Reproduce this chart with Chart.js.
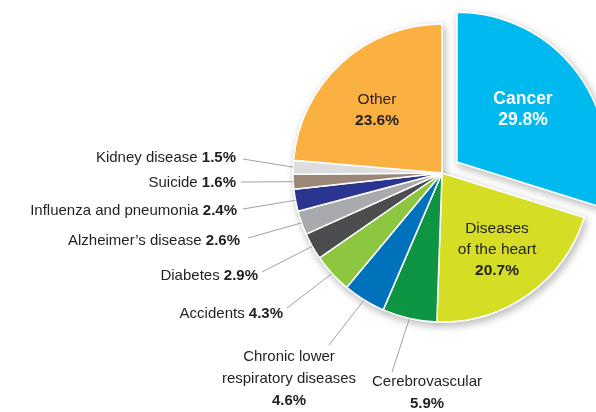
<!DOCTYPE html>
<html>
<head>
<meta charset="utf-8">
<script src="https://cdn.jsdelivr.net/npm/chart.js@4.4.1/dist/chart.umd.min.js"></script>
<style>
  html, body { margin: 0; padding: 0; background: #fff; overflow: hidden; width: 596px; height: 412px; }
  #wrap { position: absolute; left: 0; top: 0; width: 884px; height: 412px; }
</style>
</head>
<body>
<div id="wrap"><canvas id="pie" width="884" height="412"></canvas></div>
<script>
// ============================================================
// Leading causes of death — share of all deaths (%)
// ============================================================

const causes = [
  'Cancer', 'Diseases of the heart', 'Cerebrovascular', 'Chronic lower respiratory diseases',
  'Accidents', 'Diabetes', 'Alzheimer\u2019s disease', 'Influenza and pneumonia',
  'Suicide', 'Kidney disease', 'Other'
];
const shares = [29.8, 20.7, 5.9, 4.6, 4.3, 2.9, 2.6, 2.4, 1.6, 1.5, 23.6];
const sliceColors = [
  '#00b9ef', '#d5de24', '#0e9544', '#0072bc', '#8dc63f', '#4b4c4e',
  '#a8aaad', '#2b3590', '#9a8778', '#dcddde', '#fbb042'
];

// label text split into lines (name lines, then the bold value)
const labelLines = {
  'Diseases of the heart': ['Diseases', 'of the heart'],
  'Chronic lower respiratory diseases': ['Chronic lower', 'respiratory diseases'],
};

const INK = '#231f20';
const FONT = "'Liberation Sans', Arial, sans-serif";

// where outside labels sit: [textX, textY, lineStartX, lineStartY, align]
const outsideLayout = {
  'Kidney disease':          [236, 158, 243, 159, 'right'],
  'Suicide':                 [236, 183, 241, 182, 'right'],
  'Influenza and pneumonia': [237, 211, 243, 209, 'right'],
  'Alzheimer\u2019s disease':[240, 241, 248, 238, 'right'],
  'Diabetes':                [258, 276, 262, 272, 'right'],
  'Accidents':               [283, 314, 287, 308, 'right'],
  'Chronic lower respiratory diseases': [289, 357, 329, 345, 'stack'],
  'Cerebrovascular':         [427, 382, 392, 372, 'stack'],
};
// inside labels: [centerX, firstLineY]
const insideLayout = {
  'Cancer': [523, 99],
  'Other': [377, 100],
  'Diseases of the heart': [497, 229],
};

function drawInline(ctx, x, y, name, value, size) {
  ctx.font = `${size}px ${FONT}`;
  const w1 = ctx.measureText(name + ' ').width;
  ctx.font = `bold ${size}px ${FONT}`;
  const w2 = ctx.measureText(value).width;
  const left = x - w1 - w2;
  ctx.textAlign = 'left';
  ctx.font = `${size}px ${FONT}`;
  ctx.fillText(name + ' ', left, y);
  ctx.font = `bold ${size}px ${FONT}`;
  ctx.fillText(value, left + w1, y);
}

const shadowPlugin = {
  id: 'pieShadow',
  beforeDatasetsDraw(chart) {
    const ctx = chart.ctx;
    ctx.save();
    ctx.shadowColor = 'rgba(0,0,0,0.28)';
    ctx.shadowBlur = 9;
    ctx.shadowOffsetX = 2;
    ctx.shadowOffsetY = 3;
    chart.getDatasetMeta(0).data.forEach(arc => arc.draw(ctx));
    ctx.restore();
  }
};

const labelPlugin = {
  id: 'pieLabels',
  afterDatasetsDraw(chart) {
    const ctx = chart.ctx;
    const arcs = chart.getDatasetMeta(0).data;
    ctx.save();
    ctx.textBaseline = 'middle';
    causes.forEach((name, i) => {
      const arc = arcs[i];
      const value = shares[i].toFixed(1) + '%';
      const lines = labelLines[name] || [name];
      const lay = outsideLayout[name];
      if (lay) {
        const mid = (arc.startAngle + arc.endAngle) / 2;
        const ex = arc.x + Math.cos(mid) * arc.outerRadius;
        const ey = arc.y + Math.sin(mid) * arc.outerRadius;
        ctx.strokeStyle = '#9fa1a4';
        ctx.lineWidth = 1;
        ctx.beginPath();
        ctx.moveTo(lay[2], lay[3]);
        ctx.lineTo(ex, ey);
        ctx.stroke();
        ctx.fillStyle = INK;
        if (lay[4] === 'right') {
          drawInline(ctx, lay[0], lay[1], name, value, 15);
        } else {
          ctx.textAlign = 'center';
          ctx.font = `15px ${FONT}`;
          lines.forEach((l, k) => ctx.fillText(l, lay[0], lay[1] + k * 22));
          ctx.font = `bold 15px ${FONT}`;
          ctx.fillText(value, lay[0], lay[1] + lines.length * 22);
        }
        return;
      }
      const [cx, y0] = insideLayout[name];
      const white = name === 'Cancer';
      const size = white ? 17.5 : 15.5;
      ctx.textAlign = 'center';
      ctx.fillStyle = white ? '#ffffff' : INK;
      ctx.font = `${white ? 'bold ' : ''}${size}px ${FONT}`;
      lines.forEach((l, k) => ctx.fillText(l, cx, y0 + k * 21));
      ctx.font = `bold ${size}px ${FONT}`;
      ctx.fillText(value, cx, y0 + lines.length * 21);
    });
    ctx.restore();
  }
};

new Chart(document.getElementById('pie').getContext('2d'), {
  type: 'pie',
  data: {
    labels: causes,
    datasets: [{
      data: shares,
      backgroundColor: sliceColors,
      borderColor: '#ffffff',
      borderWidth: 1.5,
      offset: causes.map(c => c === 'Cancer' ? 74 : 0),
    }]
  },
  options: {
    responsive: false,
    devicePixelRatio: 1,
    animation: false,
    radius: 149,
    layout: { padding: { top: 0, left: 0, right: 0, bottom: 66 } },
    plugins: { legend: { display: false }, tooltip: { enabled: false } },
  },
  plugins: [shadowPlugin, labelPlugin]
});
</script>
</body>
</html>
